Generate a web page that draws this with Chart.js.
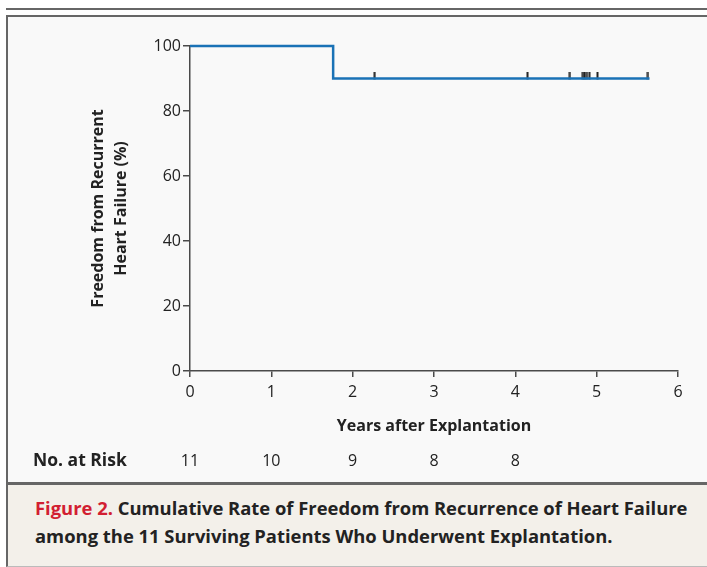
<!DOCTYPE html>
<html>
<head>
<meta charset="utf-8">
<script src="https://cdn.jsdelivr.net/npm/chart.js@4.4.1/dist/chart.umd.min.js"></script>
<style>
    html, body { margin: 0; padding: 0; background: #fff; }
    body { width: 707px; height: 567px; position: relative; overflow: hidden; font-family: "Open Sans", sans-serif; }
    .top-rule { position: absolute; left: 6px; right: 0; top: 8px; height: 2px; background: #666; }
    .panel { position: absolute; left: 6px; top: 15px; width: 701px; height: 470px; background: #f9f9f9;
             border-top: 2px solid #666; border-left: 2px solid #666; border-bottom: 3px solid #666; box-sizing: border-box; }
    .caption { position: absolute; left: 6px; top: 485px; width: 701px; height: 82px; background: #f3f0ea;
               border-left: 2px solid #666; border-bottom: 1px solid #bbb; box-sizing: border-box;
               padding: 9px 0 0 27px; font-size: 18.4px; font-weight: 700; line-height: 28px; color: #222; white-space: nowrap; }
    .caption .fig { color: #d21f32; }
    #chart { position: absolute; left: 0; top: 0; }
</style>
</head>
<body>
<div class="top-rule"></div>
<div class="panel"></div>
<div class="caption"><span class="fig">Figure 2.</span> Cumulative Rate of Freedom from Recurrence of Heart Failure<br>among the 11 Surviving Patients Who Underwent Explantation.</div>
<canvas id="chart" width="707" height="567"></canvas>

<script>
// Kaplan-Meier curve (years, % free from recurrence)
const kmYears = [0, 1.76, 5.65];
const kmFreedom = [100, 90, 90];

// censored patients (tick marks on the curve)
const censorYears = [2.27, 4.15, 4.67, 4.83, 4.85, 4.88, 4.91, 5.01, 5.63];

// numbers at risk below the axis
const atRiskYears = [0, 1, 2, 3, 4];
const atRiskCounts = [11, 10, 9, 8, 8];

const yTitleLines = ['Freedom from Recurrent', 'Heart Failure (%)'];
const xTitleText = 'Years after Explantation';

// value of the step curve at time t
function freedomAt(t) {
    let v = kmFreedom[0];
    kmYears.forEach((x, i) => { if (x <= t) v = kmFreedom[i]; });
    return v;
}

// small vertical tick used as point style (sits on top of the line)
function makeCensorMark() {
    const c = document.createElement('canvas');
    c.width = 3;
    c.height = 14;
    const g = c.getContext('2d');
    g.fillStyle = '#222';
    g.fillRect(0.5, 0, 2, 8);
    return c;
}

const atRiskPlugin = {
    id: 'atRisk',
    afterDraw(chart) {
        const ctx = chart.ctx;
        const xs = chart.scales.x;
        const y = 461;
        ctx.save();
        ctx.fillStyle = '#222';
        ctx.textBaseline = 'middle';
        ctx.font = 'bold 17.5px "Open Sans"';
        ctx.textAlign = 'left';
        ctx.fillText('No. at Risk', 33, y);
        ctx.font = '16px "Open Sans"';
        ctx.textAlign = 'center';
        atRiskYears.forEach((yr, i) => {
            ctx.fillText(String(atRiskCounts[i]), xs.getPixelForValue(yr), y);
        });
        ctx.restore();
    }
};

document.addEventListener('DOMContentLoaded', function() {
    const ctx = document.getElementById('chart');
    const axisColor = '#4a4a4a';

    new Chart(ctx, {
        type: 'line',
        data: {
            datasets: [{
                label: 'Freedom',
                data: kmYears.map((x, i) => ({ x: x, y: kmFreedom[i] })),
                stepped: 'before',
                borderColor: '#1a72b6',
                borderWidth: 2.5,
                pointRadius: 0,
                fill: false,
                clip: 6
            }, {
                label: 'Censored',
                type: 'scatter',
                data: censorYears.map(x => ({ x: x, y: freedomAt(x) })),
                pointStyle: makeCensorMark(),
                clip: 10
            }]
        },
        options: {
            responsive: false,
            animation: false,
            layout: { padding: { left: 0, top: 46, right: 29, bottom: 126 } },
            plugins: {
                legend: { display: false },
                tooltip: { enabled: false }
            },
            scales: {
                x: {
                    type: 'linear',
                    min: 0,
                    max: 6,
                    afterFit: (s) => { s.height = 70; },
                    border: { display: true, color: axisColor, width: 1.5 },
                    grid: { display: true, drawOnChartArea: false, drawTicks: true, tickLength: 6, color: axisColor, lineWidth: 1.5 },
                    ticks: { stepSize: 1, padding: 6, color: '#222', font: { family: 'Open Sans', size: 16 } },
                    title: {
                        display: true,
                        text: xTitleText,
                        color: '#222',
                        font: { family: 'Open Sans', size: 16, weight: 'bold' },
                        padding: { top: 0, bottom: 5 }
                    }
                },
                y: {
                    min: 0,
                    max: 100,
                    afterFit: (s) => { s.width = 190; },
                    border: { display: true, color: axisColor, width: 1.5 },
                    grid: { display: true, drawOnChartArea: false, drawTicks: true, tickLength: 7, color: axisColor, lineWidth: 1.5 },
                    ticks: { stepSize: 20, padding: 2, color: '#222', font: { family: 'Open Sans', size: 16 } },
                    title: {
                        display: true,
                        text: yTitleLines,
                        color: '#222',
                        font: { family: 'Open Sans', size: 16, weight: 'bold', lineHeight: 1.45 },
                        padding: { top: 87, bottom: 0 }
                    }
                }
            }
        },
        plugins: [atRiskPlugin]
    });
});
</script>
</body>
</html>
